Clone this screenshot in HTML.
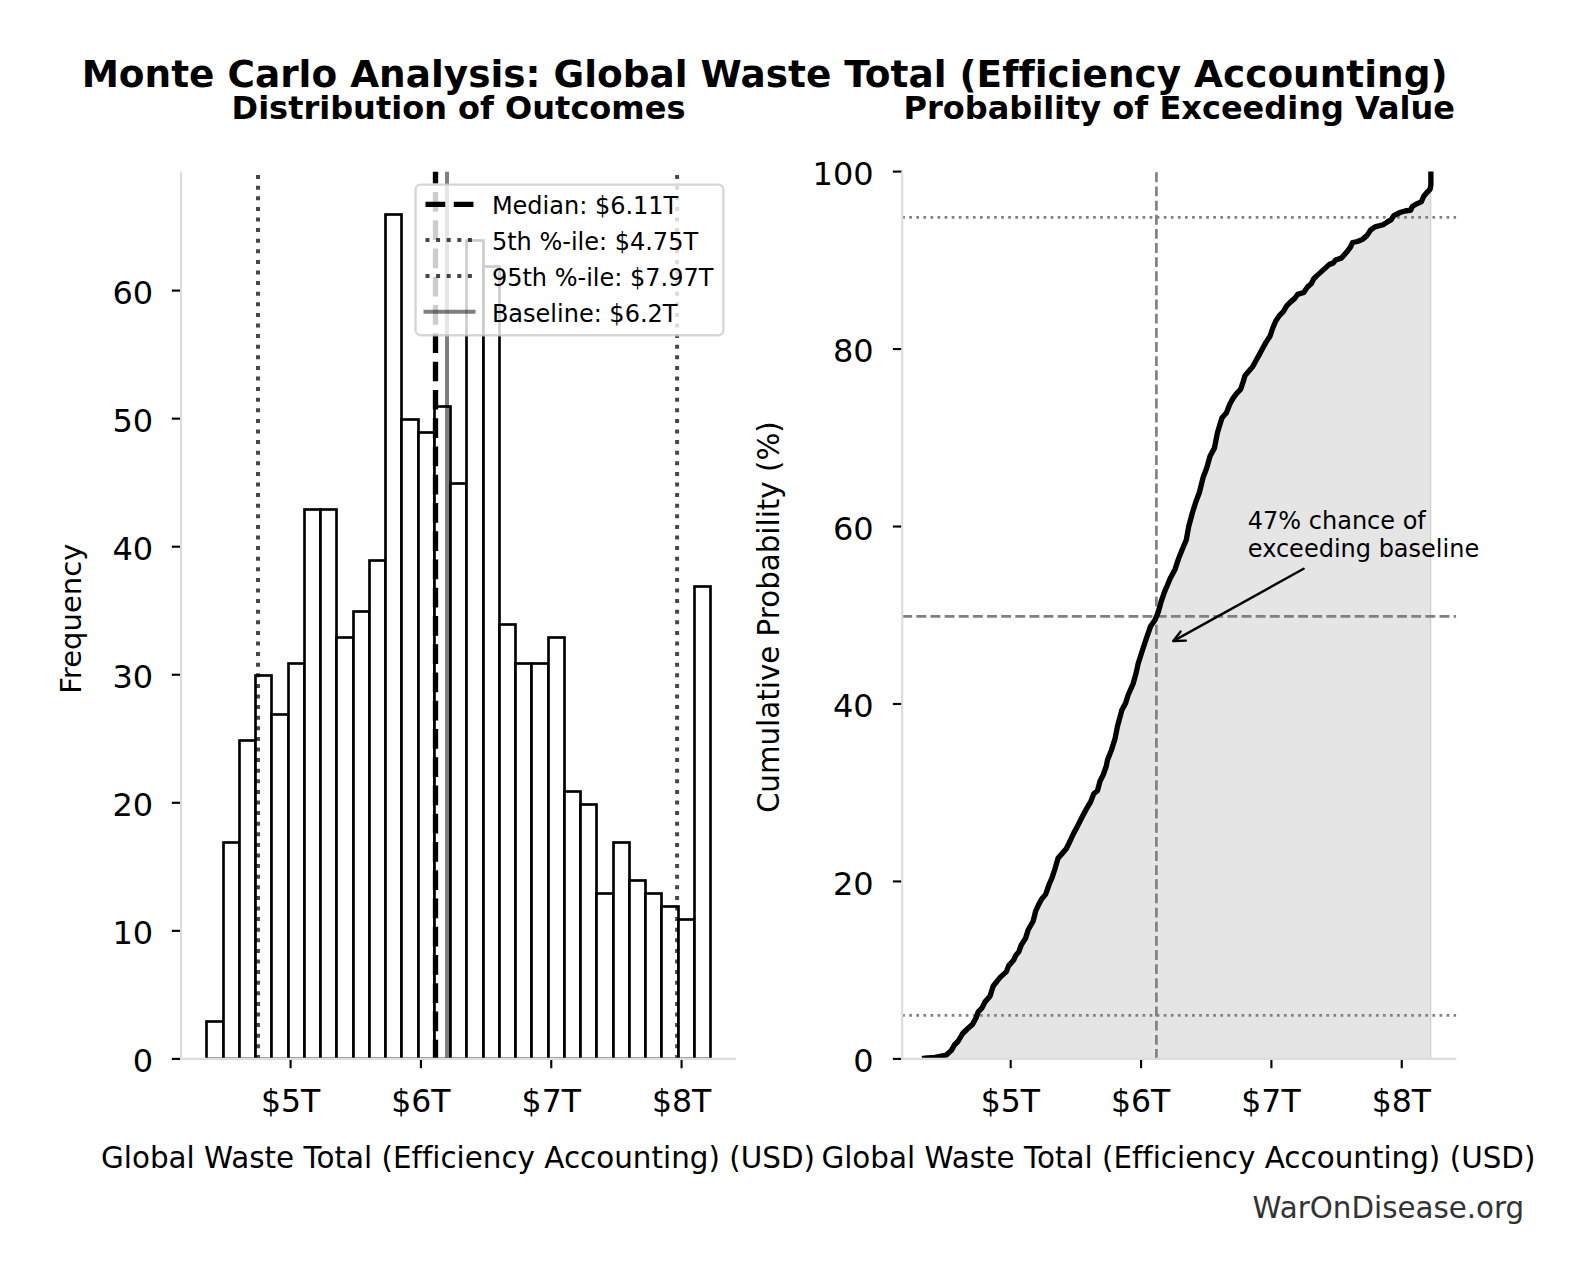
<!DOCTYPE html>
<html lang="en"><head><meta charset="utf-8"><title>Monte Carlo Analysis: Global Waste Total (Efficiency Accounting)</title>
<style>html,body{margin:0;padding:0;background:#fff}body{width:1580px;height:1280px;overflow:hidden;font-family:"DejaVu Sans", "Liberation Sans", sans-serif}svg text{font-family:"DejaVu Sans", "Liberation Sans", sans-serif;font-variant-ligatures:none;font-feature-settings:'liga' 0,'clig' 0;font-kerning:auto}</style></head>
<body>
<svg width="1580" height="1280" viewBox="0 0 1580 1280" style="display:block;font-family:'DejaVu Sans', 'Liberation Sans', sans-serif">
<rect width="1580" height="1280" fill="#fff"/>
<clipPath id="c1"><rect x="181.1" y="171.6" width="555.0" height="887.3000000000001"/></clipPath>
<g clip-path="url(#c1)">
<g fill="#fff" stroke="#000" stroke-width="2.67" stroke-linejoin="miter">
<rect x="206.50" y="1021.50" width="17.00" height="37.40"/>
<rect x="223.50" y="842.50" width="16.00" height="216.40"/>
<rect x="239.50" y="740.50" width="16.00" height="318.40"/>
<rect x="255.50" y="675.50" width="16.00" height="383.40"/>
<rect x="271.50" y="714.50" width="17.00" height="344.40"/>
<rect x="288.50" y="663.50" width="16.00" height="395.40"/>
<rect x="304.50" y="509.50" width="16.00" height="549.40"/>
<rect x="320.50" y="509.50" width="16.00" height="549.40"/>
<rect x="336.50" y="637.50" width="17.00" height="421.40"/>
<rect x="353.50" y="611.50" width="16.00" height="447.40"/>
<rect x="369.50" y="560.50" width="16.00" height="498.40"/>
<rect x="385.50" y="214.50" width="16.00" height="844.40"/>
<rect x="401.50" y="419.50" width="17.00" height="639.40"/>
<rect x="418.50" y="432.50" width="16.00" height="626.40"/>
<rect x="434.50" y="406.50" width="16.00" height="652.40"/>
<rect x="450.50" y="483.50" width="16.00" height="575.40"/>
<rect x="466.50" y="240.50" width="17.00" height="818.40"/>
<rect x="483.50" y="266.50" width="16.00" height="792.40"/>
<rect x="499.50" y="624.50" width="16.00" height="434.40"/>
<rect x="515.50" y="663.50" width="16.00" height="395.40"/>
<rect x="531.50" y="663.50" width="17.00" height="395.40"/>
<rect x="548.50" y="637.50" width="16.00" height="421.40"/>
<rect x="564.50" y="791.50" width="16.00" height="267.40"/>
<rect x="580.50" y="804.50" width="16.00" height="254.40"/>
<rect x="596.50" y="893.50" width="17.00" height="165.40"/>
<rect x="613.50" y="842.50" width="16.00" height="216.40"/>
<rect x="629.50" y="880.50" width="16.00" height="178.40"/>
<rect x="645.50" y="893.50" width="16.00" height="165.40"/>
<rect x="661.50" y="906.50" width="17.00" height="152.40"/>
<rect x="678.50" y="919.50" width="16.00" height="139.40"/>
<rect x="694.50" y="586.50" width="16.00" height="472.40"/>
</g>
<line x1="435.5" y1="1059.6000000000001" x2="435.5" y2="171.6" stroke="#000" stroke-width="5.33" stroke-dasharray="19.73 8.53"/>
<line x1="258.0" y1="1058.9" x2="258.0" y2="171.6" stroke="#000" stroke-opacity="0.72" stroke-width="4" stroke-dasharray="4 6.6"/>
<line x1="677.1" y1="1058.9" x2="677.1" y2="171.6" stroke="#000" stroke-opacity="0.72" stroke-width="4" stroke-dasharray="4 6.6"/>
<line x1="447.00" y1="1058.9" x2="447.00" y2="171.6" stroke="#000" stroke-opacity="0.5" stroke-width="4"/>
</g>
<g stroke="#000" stroke-width="2.13">
<line x1="171.77" y1="1058.90" x2="181.1" y2="1058.90"/>
<line x1="171.77" y1="930.85" x2="181.1" y2="930.85"/>
<line x1="171.77" y1="802.80" x2="181.1" y2="802.80"/>
<line x1="171.77" y1="674.75" x2="181.1" y2="674.75"/>
<line x1="171.77" y1="546.70" x2="181.1" y2="546.70"/>
<line x1="171.77" y1="418.65" x2="181.1" y2="418.65"/>
<line x1="171.77" y1="290.60" x2="181.1" y2="290.60"/>
<line x1="290.60" y1="1058.9" x2="290.60" y2="1068.23"/>
<line x1="420.93" y1="1058.9" x2="420.93" y2="1068.23"/>
<line x1="551.26" y1="1058.9" x2="551.26" y2="1068.23"/>
<line x1="681.59" y1="1058.9" x2="681.59" y2="1068.23"/>
</g>
<line x1="181.1" y1="171.6" x2="181.1" y2="1059.97" stroke="#dddddd" stroke-width="2.13"/>
<line x1="180.03" y1="1058.9" x2="736.1" y2="1058.9" stroke="#dddddd" stroke-width="2.13"/>
<g font-size="32" fill="#000">
<text x="153.2" y="1072.20" text-anchor="end">0</text>
<text x="153.2" y="944.15" text-anchor="end">10</text>
<text x="153.2" y="816.10" text-anchor="end">20</text>
<text x="153.2" y="688.05" text-anchor="end">30</text>
<text x="153.2" y="560.00" text-anchor="end">40</text>
<text x="153.2" y="431.95" text-anchor="end">50</text>
<text x="153.2" y="303.90" text-anchor="end">60</text>
<text x="290.60" y="1112" font-size="31.5" text-anchor="middle">$5T</text>
<text x="420.93" y="1112" font-size="31.5" text-anchor="middle">$6T</text>
<text x="551.26" y="1112" font-size="31.5" text-anchor="middle">$7T</text>
<text x="681.59" y="1112" font-size="31.5" text-anchor="middle">$8T</text>
</g>
<clipPath id="c2"><rect x="902.2" y="171.6" width="554.0999999999999" height="887.3000000000001"/></clipPath>
<g clip-path="url(#c2)">
<polygon points="921.88,1058.38 924.38,1058.25 935.00,1057.38 946.25,1055.00 951.25,1050.62 954.38,1045.00 958.12,1041.25 962.50,1033.75 967.50,1028.75 972.50,1024.38 976.25,1017.50 978.12,1011.88 981.88,1008.12 985.00,1001.88 990.00,996.25 993.12,986.25 997.50,980.62 1000.62,976.88 1006.25,971.88 1008.75,965.62 1013.75,960.00 1015.62,955.62 1018.75,951.88 1021.25,945.00 1025.62,938.12 1028.12,930.00 1033.12,921.25 1035.62,911.25 1038.75,904.38 1041.88,898.75 1045.62,894.38 1049.38,883.75 1051.88,878.12 1055.00,868.75 1058.12,858.12 1062.50,853.12 1066.25,848.75 1068.75,843.75 1073.75,833.12 1078.12,825.00 1082.50,816.25 1086.88,808.12 1090.62,801.88 1093.75,793.75 1097.50,790.62 1100.00,781.25 1103.12,775.00 1106.25,766.25 1107.50,760.00 1111.25,750.62 1115.00,738.75 1117.50,726.25 1121.88,710.00 1125.62,703.12 1128.12,695.00 1133.12,683.75 1136.25,672.50 1138.12,663.75 1142.50,650.00 1146.88,636.88 1150.62,626.25 1155.00,620.00 1158.12,612.50 1161.25,601.25 1165.00,590.62 1167.50,585.00 1170.00,578.75 1175.00,569.38 1178.75,558.12 1182.50,548.75 1186.25,540.00 1188.75,526.25 1192.50,512.50 1195.62,502.50 1199.38,492.50 1203.12,477.50 1206.88,467.50 1210.00,456.25 1214.38,448.12 1217.50,432.50 1221.88,418.12 1226.25,413.12 1230.00,403.75 1233.12,398.12 1236.88,393.12 1240.62,389.38 1243.12,381.88 1245.00,375.62 1248.75,371.25 1252.50,366.88 1255.62,361.25 1258.75,355.62 1263.12,347.50 1266.25,341.88 1270.00,336.25 1272.50,328.75 1275.62,321.25 1279.38,315.62 1283.12,311.88 1286.88,305.62 1290.62,301.88 1295.00,298.12 1297.50,294.38 1303.75,292.50 1307.50,286.88 1311.25,283.75 1313.75,278.75 1316.88,275.62 1322.50,270.62 1329.38,264.38 1333.12,263.12 1335.62,260.00 1341.25,258.12 1346.88,251.88 1350.62,246.88 1352.50,242.50 1357.50,241.50 1362.50,239.38 1366.88,235.62 1370.62,230.00 1375.00,226.88 1383.12,224.75 1387.50,221.88 1391.25,219.62 1393.75,215.62 1400.00,212.50 1405.00,211.00 1410.62,210.25 1412.50,206.25 1416.88,203.75 1421.25,201.88 1423.75,196.25 1426.88,192.50 1430.00,189.38 1430.88,185.00 1430.88,168.75 1430.90,1058.9 921.88,1058.9" fill="#000" fill-opacity="0.1"/>
<line x1="1430.7" y1="189.346" x2="1430.7" y2="1058.9" stroke="#000" stroke-opacity="0.1" stroke-width="1.6"/>
<line x1="1156.4" y1="1058.9" x2="1156.4" y2="171.6" stroke="#808080" stroke-width="2.67" stroke-dasharray="9.87 4.27"/>
<line x1="902.2" y1="616.3" x2="1456.3" y2="616.3" stroke="#808080" stroke-width="2.67" stroke-dasharray="9.87 4.27"/>
<line x1="902.2" y1="217.45" x2="1456.3" y2="217.45" stroke="#808080" stroke-width="2.67" stroke-dasharray="2.67 4.4"/>
<line x1="902.2" y1="1015.4" x2="1456.3" y2="1015.4" stroke="#808080" stroke-width="2.67" stroke-dasharray="2.67 4.4"/>
<polyline points="921.88,1058.38 924.38,1058.25 935.00,1057.38 946.25,1055.00 951.25,1050.62 954.38,1045.00 958.12,1041.25 962.50,1033.75 967.50,1028.75 972.50,1024.38 976.25,1017.50 978.12,1011.88 981.88,1008.12 985.00,1001.88 990.00,996.25 993.12,986.25 997.50,980.62 1000.62,976.88 1006.25,971.88 1008.75,965.62 1013.75,960.00 1015.62,955.62 1018.75,951.88 1021.25,945.00 1025.62,938.12 1028.12,930.00 1033.12,921.25 1035.62,911.25 1038.75,904.38 1041.88,898.75 1045.62,894.38 1049.38,883.75 1051.88,878.12 1055.00,868.75 1058.12,858.12 1062.50,853.12 1066.25,848.75 1068.75,843.75 1073.75,833.12 1078.12,825.00 1082.50,816.25 1086.88,808.12 1090.62,801.88 1093.75,793.75 1097.50,790.62 1100.00,781.25 1103.12,775.00 1106.25,766.25 1107.50,760.00 1111.25,750.62 1115.00,738.75 1117.50,726.25 1121.88,710.00 1125.62,703.12 1128.12,695.00 1133.12,683.75 1136.25,672.50 1138.12,663.75 1142.50,650.00 1146.88,636.88 1150.62,626.25 1155.00,620.00 1158.12,612.50 1161.25,601.25 1165.00,590.62 1167.50,585.00 1170.00,578.75 1175.00,569.38 1178.75,558.12 1182.50,548.75 1186.25,540.00 1188.75,526.25 1192.50,512.50 1195.62,502.50 1199.38,492.50 1203.12,477.50 1206.88,467.50 1210.00,456.25 1214.38,448.12 1217.50,432.50 1221.88,418.12 1226.25,413.12 1230.00,403.75 1233.12,398.12 1236.88,393.12 1240.62,389.38 1243.12,381.88 1245.00,375.62 1248.75,371.25 1252.50,366.88 1255.62,361.25 1258.75,355.62 1263.12,347.50 1266.25,341.88 1270.00,336.25 1272.50,328.75 1275.62,321.25 1279.38,315.62 1283.12,311.88 1286.88,305.62 1290.62,301.88 1295.00,298.12 1297.50,294.38 1303.75,292.50 1307.50,286.88 1311.25,283.75 1313.75,278.75 1316.88,275.62 1322.50,270.62 1329.38,264.38 1333.12,263.12 1335.62,260.00 1341.25,258.12 1346.88,251.88 1350.62,246.88 1352.50,242.50 1357.50,241.50 1362.50,239.38 1366.88,235.62 1370.62,230.00 1375.00,226.88 1383.12,224.75 1387.50,221.88 1391.25,219.62 1393.75,215.62 1400.00,212.50 1405.00,211.00 1410.62,210.25 1412.50,206.25 1416.88,203.75 1421.25,201.88 1423.75,196.25 1426.88,192.50 1430.00,189.38 1430.88,185.00 1430.88,168.75" fill="none" stroke="#000" stroke-width="5.33" stroke-linejoin="round" stroke-linecap="butt"/>
</g>
<g stroke="#000" stroke-width="2.13">
<line x1="892.87" y1="1058.90" x2="902.2" y2="1058.90"/>
<line x1="892.87" y1="881.44" x2="902.2" y2="881.44"/>
<line x1="892.87" y1="703.98" x2="902.2" y2="703.98"/>
<line x1="892.87" y1="526.52" x2="902.2" y2="526.52"/>
<line x1="892.87" y1="349.06" x2="902.2" y2="349.06"/>
<line x1="892.87" y1="171.60" x2="902.2" y2="171.60"/>
<line x1="1010.70" y1="1058.9" x2="1010.70" y2="1068.23"/>
<line x1="1141.05" y1="1058.9" x2="1141.05" y2="1068.23"/>
<line x1="1271.40" y1="1058.9" x2="1271.40" y2="1068.23"/>
<line x1="1401.75" y1="1058.9" x2="1401.75" y2="1068.23"/>
</g>
<line x1="902.2" y1="170.53" x2="902.2" y2="1059.97" stroke="#dddddd" stroke-width="2.13"/>
<line x1="901.13" y1="1058.9" x2="1456.3" y2="1058.9" stroke="#dddddd" stroke-width="2.13"/>
<g font-size="32" fill="#000">
<text x="873.6" y="1072.20" text-anchor="end">0</text>
<text x="873.6" y="894.74" text-anchor="end">20</text>
<text x="873.6" y="717.28" text-anchor="end">40</text>
<text x="873.6" y="539.82" text-anchor="end">60</text>
<text x="873.6" y="362.36" text-anchor="end">80</text>
<text x="873.6" y="184.90" text-anchor="end">100</text>
<text x="1010.30" y="1112" font-size="31.5" text-anchor="middle">$5T</text>
<text x="1140.65" y="1112" font-size="31.5" text-anchor="middle">$6T</text>
<text x="1271.00" y="1112" font-size="31.5" text-anchor="middle">$7T</text>
<text x="1401.35" y="1112" font-size="31.5" text-anchor="middle">$8T</text>
</g>
<g font-size="24" fill="#000"><text x="1247.8" y="528.7">47% chance of</text><text x="1247.8" y="556.5">exceeding baseline</text></g>
<g stroke="#000" stroke-width="2.4" fill="none" stroke-linecap="round" stroke-linejoin="round"><path d="M1303.6 568.8 L1173.6 640.9"/><path d="M1180.6 631.6 L1173.3 641 L1185.9 640.6"/></g>
<rect x="415.5" y="184.6" width="307.9" height="150.7" rx="5.3" ry="5.3" fill="#fff" fill-opacity="0.8" stroke="#ccc" stroke-opacity="0.8" stroke-width="2.4"/>
<line x1="425.5" y1="204.4" x2="473.5" y2="204.4" stroke="#000" stroke-width="5.33" stroke-dasharray="19.73 8.53"/>
<line x1="425.5" y1="240" x2="473.5" y2="240" stroke="#000" stroke-opacity="0.72" stroke-width="4" stroke-dasharray="4 6.6"/>
<line x1="425.5" y1="276" x2="473.5" y2="276" stroke="#000" stroke-opacity="0.72" stroke-width="4" stroke-dasharray="4 6.6"/>
<line x1="423.5" y1="311.8" x2="475.5" y2="311.8" stroke="#000" stroke-opacity="0.5" stroke-width="4"/>
<g font-size="24" fill="#000">
<text x="491.9" y="213.7">Median: $6.11T</text>
<text x="491.9" y="249.7">5th %-ile: $4.75T</text>
<text x="491.9" y="285.7">95th %-ile: $7.97T</text>
<text x="491.9" y="321.7">Baseline: $6.2T</text>
</g>
<text x="764.6" y="86.8" font-size="37.41" font-weight="bold" text-anchor="middle">Monte Carlo Analysis: Global Waste Total (Efficiency Accounting)</text>
<text x="458.5" y="119" font-size="32" font-weight="bold" text-anchor="middle">Distribution of Outcomes</text>
<text x="1179.3" y="119" font-size="32" font-weight="bold" text-anchor="middle">Probability of Exceeding Value</text>
<text x="458" y="1168.3" font-size="29.4" text-anchor="middle">Global Waste Total (Efficiency Accounting) (USD)</text>
<text x="1178.4" y="1168.3" font-size="29.4" text-anchor="middle">Global Waste Total (Efficiency Accounting) (USD)</text>
<text transform="translate(80.9 618.7) rotate(-90)" font-size="29.05" text-anchor="middle">Frequency</text>
<text transform="translate(779.3 617.2) rotate(-90)" font-size="29.33" text-anchor="middle">Cumulative Probability (%)</text>
<text x="1388.4" y="1217.7" font-size="29.33" fill="#333" text-anchor="middle">WarOnDisease.org</text>
</svg>
</body></html>
